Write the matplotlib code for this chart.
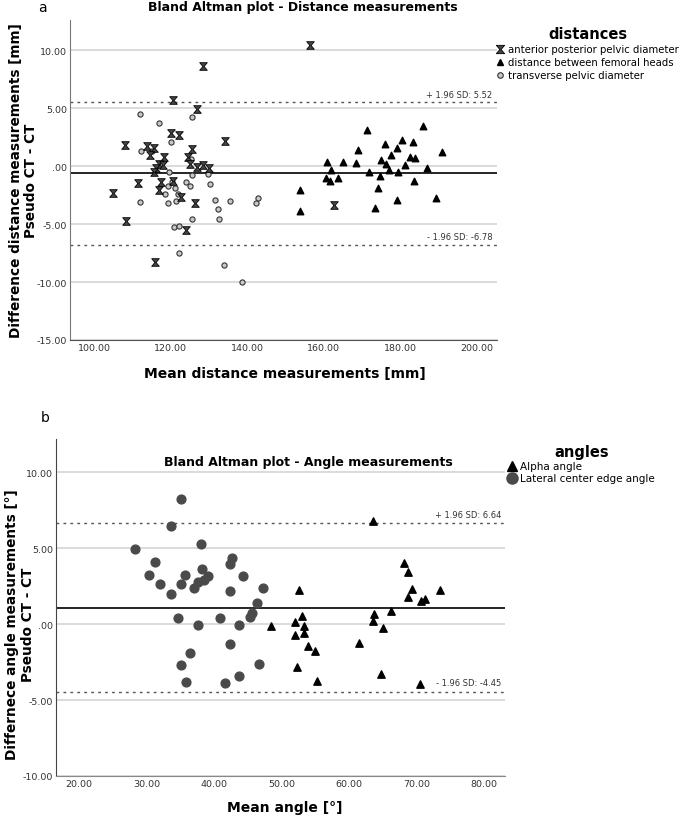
import numpy as np
import matplotlib
matplotlib.use("Agg")
import matplotlib.pyplot as plt
from matplotlib.path import Path
from matplotlib.lines import Line2D
from matplotlib.ticker import FuncFormatter

plt.rcParams['font.family'] = ['DejaVu Sans']

# Distance measurements (mean, difference)
ap_mean = [128.5, 120.7, 126.9, 120.0, 122.1, 108.0, 134.1, 113.8, 115.7, 114.6, 125.5,
           118.4, 124.5, 125.2, 117.0, 118.0, 116.3, 115.8, 127.0, 128.5, 129.9, 117.4,
           120.7, 117.0, 111.5, 104.9, 122.6, 126.5, 108.3, 124.1, 116.0, 156.3, 162.6]
ap_diff = [8.6, 5.72, 4.91, 2.82, 2.70, 1.81, 2.18, 1.70, 1.52, 0.95, 1.47,
           0.75, 0.75, 0.17, 0.17, 0.09, -0.2, -0.55, -0.06, 0.09, -0.2, -1.35,
           -1.27, -2.07, -1.47, -2.33, -2.64, -3.19, -4.71, -5.52, -8.3, 10.46, -3.36]

fh_mean = [153.9, 153.9, 160.9, 161.8, 160.6, 161.5, 163.6, 165.0, 168.3, 168.9, 171.3,
           171.9, 174.2, 173.4, 174.7, 175.0, 176.0, 176.2, 177.0, 177.5, 179.1, 179.4,
           179.0, 180.4, 181.3, 182.6, 183.9, 183.4, 183.5, 185.9, 187.0, 189.4, 190.8]
fh_diff = [-2.04, -3.85, 0.37, -0.32, -1.06, -1.27, -1.03, 0.37, 0.26, 1.35, 3.07,
           -0.55, -1.92, -3.65, -0.83, 0.49, 1.92, 0.17, -0.34, 0.95, 1.55, -0.55,
           -2.93, 2.27, 0.06, 0.78, 0.66, 2.07, -1.32, 3.47, -0.2, -2.76, 1.18]

tp_mean = [112.0, 116.9, 125.5, 120.1, 112.3, 115.1, 125.4, 119.6, 125.7, 129.8, 120.5,
           119.2, 124.0, 125.2, 121.2, 130.3, 118.5, 121.9, 112.0, 119.4, 121.5, 131.6,
           135.6, 132.3, 125.6, 132.6, 120.8, 122.2, 122.3, 133.9, 138.6, 142.7, 142.3]
tp_diff = [4.51, 3.71, 4.2, 2.1, 1.32, 1.32, 0.6, -0.49, -0.78, -0.69, -1.35,
           -1.7, -1.41, -1.7, -1.92, -1.58, -2.39, -2.39, -3.08, -3.19, -2.99, -2.9,
           -2.99, -3.71, -4.6, -4.6, -5.29, -5.2, -7.5, -8.53, -10.0, -2.78, -3.19]

dist_upper, dist_lower = 5.52, -6.78

# Angle measurements (mean, difference)
lce_mean = [35.1, 33.6, 28.3, 38.1, 31.3, 42.6, 42.3, 30.3, 35.7, 38.2, 32.0, 35.1,
            37.7, 38.5, 39.1, 44.3, 37.1, 33.7, 42.3, 47.2, 46.4, 45.7, 45.3, 34.6,
            40.9, 37.6, 43.7, 42.3, 36.4, 35.1, 46.7, 35.8, 41.7, 43.7]
lce_diff = [8.27, 6.47, 4.98, 5.26, 4.08, 4.39, 3.97, 3.27, 3.27, 3.66, 2.68, 2.68,
            2.78, 2.89, 3.18, 3.18, 2.39, 1.97, 2.17, 2.39, 1.38, 0.77, 0.48, 0.39,
            0.39, -0.02, -0.02, -1.32, -1.91, -2.7, -2.61, -3.79, -3.9, -3.4]

alpha_mean = [52.6, 48.5, 52.0, 53.1, 53.3, 53.4, 52.0, 53.9, 54.9, 52.3, 55.2,
              63.6, 68.2, 68.8, 69.3, 68.8, 70.6, 71.3, 73.5, 66.2, 63.7, 63.6,
              65.1, 61.5, 64.7, 70.5]
alpha_diff = [2.24, -0.15, 0.13, 0.55, -0.15, -0.57, -0.74, -1.45, -1.75, -2.85, -3.73,
              6.8, 4.01, 3.42, 2.32, 1.82, 1.51, 1.63, 2.24, 0.84, 0.64, 0.2,
              -0.28, -1.27, -3.29, -3.97]

ang_upper, ang_lower = 6.64, -4.45

W, H = 685, 820
fig = plt.figure(figsize=(W / 100, H / 100), dpi=100)


def px_axes(left, top, right, bottom):
    return fig.add_axes([left / W, 1 - bottom / H, (right - left) / W, (bottom - top) / H])


def ftext(x, y, s, **kw):
    fig.text(x / W, 1 - y / H, s, **kw)


def fmt(v, pos):
    s = "%.2f" % v
    if s.startswith("0."):
        s = s[1:]
    if s == "-0.00":
        s = ".00"
    return s


# hourglass marker
hourglass = Path([(-1, 1), (1, 1), (0.15, 0), (1, -1), (-1, -1), (-0.15, 0), (-1, 1)],
                 [Path.MOVETO, Path.LINETO, Path.LINETO, Path.LINETO,
                  Path.LINETO, Path.LINETO, Path.CLOSEPOLY])


def style_axes(ax, yticks, xticks):
    ax.set_yticks(yticks)
    ax.set_xticks(xticks)
    ax.yaxis.set_major_formatter(FuncFormatter(fmt))
    ax.xaxis.set_major_formatter(FuncFormatter(fmt))
    ax.tick_params(length=0, pad=2, labelsize=6.8, colors='#333333')
    for s in ['top', 'right']:
        ax.spines[s].set_visible(False)
    ax.spines['left'].set_color('#777777')
    ax.spines['bottom'].set_color('#555555')
    ax.grid(axis='y', color='#d4d4d4', lw=1.2)
    ax.set_axisbelow(True)


# ---- a: distances ----
ax1 = px_axes(70, 21, 497, 341)
ax1.set_xlim(93.75, 205.2)
ax1.set_ylim(-15, 12.6)
style_axes(ax1, [-15, -10, -5, 0, 5, 10], [100, 120, 140, 160, 180, 200])
ax1.axhline(dist_upper, color='#555555', lw=1, ls=(0, (2, 3)))
ax1.axhline(dist_lower, color='#555555', lw=1, ls=(0, (2, 3)))
ax1.axhline((dist_upper + dist_lower) / 2, color='black', lw=1.2)
ax1.scatter(tp_mean, tp_diff, s=14, marker='o', facecolor='#c8c8c8', edgecolor='#333333', lw=0.8, zorder=3)
ax1.scatter(fh_mean, fh_diff, s=22, marker='^', color='black', zorder=3)
ax1.scatter(ap_mean, ap_diff, s=30, marker=hourglass, facecolor='#444444', edgecolor='black', lw=0.6, zorder=4)
ax1.text(204, dist_upper + 0.3, "+ 1.96 SD: 5.52", ha='right', va='bottom', fontsize=6, color='#333333')
ax1.text(204, dist_lower + 0.3, "- 1.96 SD: -6.78", ha='right', va='bottom', fontsize=6, color='#333333')

h1 = [Line2D([], [], ls='none', marker=hourglass, ms=6, mfc='#444444', mec='black', mew=0.6),
      Line2D([], [], ls='none', marker='^', ms=5, color='black'),
      Line2D([], [], ls='none', marker='o', ms=4, mfc='#c8c8c8', mec='#333333', mew=0.8)]
leg1 = fig.legend(h1, ["anterior posterior pelvic diameter", "distance between femoral heads",
                       "transverse pelvic diameter"],
                  loc='upper left', bbox_to_anchor=(492 / W, 1 - 23 / H), frameon=False,
                  fontsize=7.3, title="distances", handlelength=0.8, handletextpad=0.4,
                  labelspacing=0.3, borderaxespad=0,
                  title_fontproperties={'weight': 'bold', 'size': 10.5})

ftext(42, 8, "a", fontsize=10, ha='center', va='center')
ftext(303, 8, "Bland Altman plot - Distance measurements", fontsize=9, weight='bold', ha='center', va='center')
ftext(16, 181, "Difference distance measurements [mm]", fontsize=9.8, weight='bold',
      rotation=90, ha='center', va='center')
ftext(31, 181, "Pseudo CT - CT", fontsize=9.8, weight='bold', rotation=90, ha='center', va='center')
ftext(285, 374, "Mean distance measurements [mm]", fontsize=10, weight='bold', ha='center', va='center')

# ---- b: angles ----
ax2 = px_axes(56, 440, 505, 777)
ax2.set_xlim(16.6, 83.1)
ax2.set_ylim(-10, 12.2)
style_axes(ax2, [-10, -5, 0, 5, 10], [20, 30, 40, 50, 60, 70, 80])
ax2.spines['left'].set_color('#444444')
ax2.spines['bottom'].set_color('#888888')
ax2.axhline(ang_upper, color='#555555', lw=1, ls=(0, (2, 3)))
ax2.axhline(ang_lower, color='#555555', lw=1, ls=(0, (2, 3)))
ax2.axhline((ang_upper + ang_lower) / 2, color='black', lw=1.2)
ax2.scatter(lce_mean, lce_diff, s=40, marker='o', color='#4a4a4a', zorder=3)
ax2.scatter(alpha_mean, alpha_diff, s=28, marker='^', color='black', zorder=3)
ax2.text(82.5, ang_upper + 0.3, "+ 1.96 SD: 6.64", ha='right', va='bottom', fontsize=6, color='#333333')
ax2.text(82.5, ang_lower + 0.3, "- 1.96 SD: -4.45", ha='right', va='bottom', fontsize=6, color='#333333')

h2 = [Line2D([], [], ls='none', marker='^', ms=7, color='black'),
      Line2D([], [], ls='none', marker='o', ms=8, color='#4a4a4a')]
leg2 = fig.legend(h2, ["Alpha angle", "Lateral center edge angle"],
                  loc='upper left', bbox_to_anchor=(504 / W, 1 - 441 / H), frameon=False,
                  fontsize=7.5, title="angles", handlelength=0.8, handletextpad=0.3,
                  labelspacing=0.2, borderaxespad=0,
                  title_fontproperties={'weight': 'bold', 'size': 10.5})

ftext(45, 418, "b", fontsize=10, ha='center', va='center')
ftext(308, 463, "Bland Altman plot - Angle measurements", fontsize=9, weight='bold', ha='center', va='center')
ftext(12, 625, "Differnece angle measurements [°]", fontsize=9.8, weight='bold',
      rotation=90, ha='center', va='center')
ftext(28, 625, "Pseudo CT - CT", fontsize=9.8, weight='bold', rotation=90, ha='center', va='center')
ftext(285, 808, "Mean angle [°]", fontsize=10, weight='bold', ha='center', va='center')

fig.savefig("out.png", dpi=100)
